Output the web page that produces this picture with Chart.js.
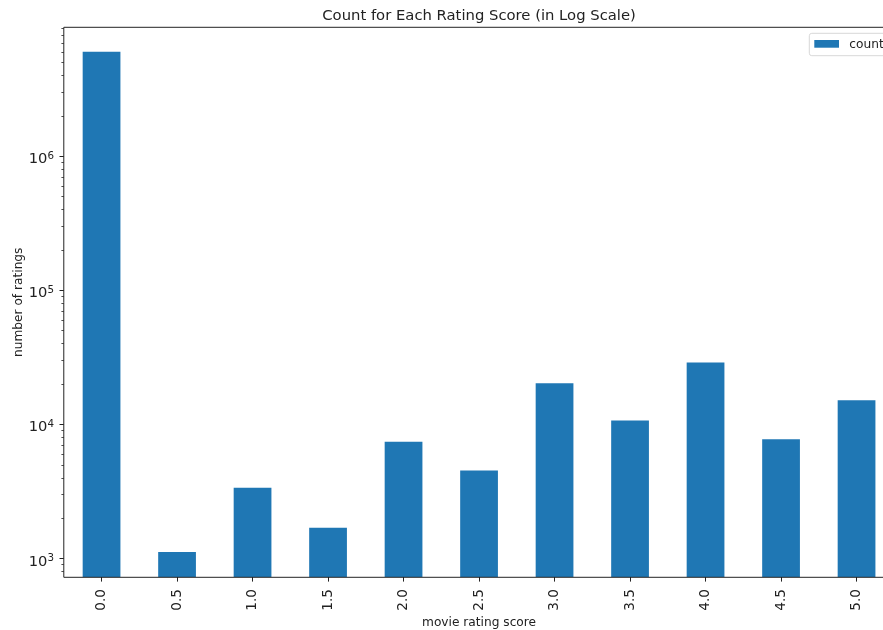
<!DOCTYPE html>
<html>
<head>
<meta charset="utf-8">
<script src="https://cdn.jsdelivr.net/npm/chart.js@4/dist/chart.umd.min.js"></script>
<style>
  html, body { margin: 0; padding: 0; background: #fff; overflow: hidden; }
  #wrap { position: relative; width: 900px; height: 630px; }
</style>
</head>
<body>
<div id="wrap"><canvas id="chart"></canvas></div>
<script>
// Rating scores and how many ratings each one received
const ratingScores = ['0.0', '0.5', '1.0', '1.5', '2.0', '2.5', '3.0', '3.5', '4.0', '4.5', '5.0'];
const ratingCounts = [6000000, 1114, 3363, 1691, 7381, 4508, 20230, 10640, 28840, 7730, 15100];
const seriesName = 'count';

// Log axis: labelled decades and range
const yMajorTicks = [1e3, 1e4, 1e5, 1e6];
const yMin = 721;
const yMax = 9.13e6;

const chartTitle = 'Count for Each Rating Score (in Log Scale)';
const xTitle = 'movie rating score';
const yTitle = 'number of ratings';

const FONT = '"DejaVu Sans", sans-serif';
const INK = '#222';
const BAR = '#1f77b4';

// Spines, log ticks with superscript labels, titles and legend
const decorations = {
  id: 'decorations',
  afterDraw(chart) {
    const { ctx, chartArea: a, scales } = chart;
    const y = scales.y;
    ctx.save();

    // spines
    ctx.strokeStyle = INK;
    ctx.lineWidth = 1;
    ctx.beginPath();
    ctx.moveTo(a.left, a.top); ctx.lineTo(a.right, a.top);
    ctx.moveTo(a.left, a.top); ctx.lineTo(a.left, a.bottom);
    ctx.moveTo(a.left, a.bottom); ctx.lineTo(a.right, a.bottom);
    ctx.moveTo(a.right, a.top); ctx.lineTo(a.right, a.bottom);
    ctx.stroke();

    // y minor ticks
    ctx.lineWidth = 0.8;
    ctx.beginPath();
    for (let e = 2; e <= 6; e++) {
      for (let k = 2; k <= 9; k++) {
        const v = k * Math.pow(10, e);
        if (v < yMin || v > yMax) continue;
        const py = Math.round(y.getPixelForValue(v)) + 0.5;
        ctx.moveTo(a.left, py); ctx.lineTo(a.left - 2.4, py);
      }
    }
    ctx.stroke();

    // y major ticks and labels
    ctx.lineWidth = 1;
    ctx.fillStyle = INK;
    ctx.textBaseline = 'alphabetic';
    yMajorTicks.forEach(v => {
      const py = y.getPixelForValue(v);
      ctx.beginPath();
      ctx.moveTo(a.left, Math.round(py) + 0.5); ctx.lineTo(a.left - 4.3, Math.round(py) + 0.5);
      ctx.stroke();
      const exp = String(Math.round(Math.log10(v)));
      ctx.font = '10.3px ' + FONT;
      const ew = ctx.measureText(exp).width;
      ctx.font = '14.7px ' + FONT;
      const bw = ctx.measureText('10').width;
      const right = a.left - 9.8;
      ctx.textAlign = 'left';
      ctx.fillText('10', right - ew - bw, py + 7.3);
      ctx.font = '10.3px ' + FONT;
      ctx.fillText(exp, right - ew, py + 3.2);
    });

    // title
    const cx = (a.left + a.right) / 2;
    ctx.textAlign = 'center';
    ctx.font = '14.8px ' + FONT;
    ctx.fillText(chartTitle, cx, 20);

    // axis titles
    ctx.font = '12.2px ' + FONT;
    ctx.fillText(xTitle, cx, 626);
    ctx.save();
    ctx.translate(21.7, (a.top + a.bottom) / 2);
    ctx.rotate(-Math.PI / 2);
    ctx.fillText(yTitle, 0, 0);
    ctx.restore();

    // legend
    const lx = 809.3, ly = 33.3, lw = 80, lh = 22.4, r = 2.5;
    ctx.beginPath();
    ctx.moveTo(lx + r, ly);
    ctx.lineTo(lx + lw - r, ly); ctx.arcTo(lx + lw, ly, lx + lw, ly + r, r);
    ctx.lineTo(lx + lw, ly + lh - r); ctx.arcTo(lx + lw, ly + lh, lx + lw - r, ly + lh, r);
    ctx.lineTo(lx + r, ly + lh); ctx.arcTo(lx, ly + lh, lx, ly + lh - r, r);
    ctx.lineTo(lx, ly + r); ctx.arcTo(lx, ly, lx + r, ly, r);
    ctx.closePath();
    ctx.fillStyle = 'rgba(255,255,255,0.8)';
    ctx.fill();
    ctx.strokeStyle = '#d8d8d8';
    ctx.lineWidth = 1;
    ctx.stroke();
    ctx.fillStyle = BAR;
    ctx.fillRect(814.3, 40, 24.7, 7.7);
    ctx.fillStyle = INK;
    ctx.textAlign = 'left';
    ctx.font = '12.2px ' + FONT;
    ctx.fillText(seriesName, 849.3, 48.2);

    ctx.restore();
  }
};

new Chart(document.getElementById('chart'), {
  type: 'bar',
  data: {
    labels: ratingScores,
    datasets: [{
      label: seriesName,
      data: ratingCounts,
      backgroundColor: BAR,
      borderWidth: 0,
      barPercentage: 0.5,
      categoryPercentage: 1.0
    }]
  },
  options: {
    responsive: true,
    maintainAspectRatio: false,
    animation: false,
    layout: { padding: { left: 0, right: 5.7, top: 27.3, bottom: 0 } },
    plugins: {
      legend: { display: false },
      title: { display: false },
      tooltip: { enabled: false }
    },
    scales: {
      x: {
        type: 'category',
        offset: true,
        grid: {
          display: true,
          drawOnChartArea: false,
          offset: false,
          tickLength: 4.3,
          tickColor: INK,
          tickWidth: 1
        },
        border: { display: false },
        ticks: {
          minRotation: 90,
          maxRotation: 90,
          padding: 7.5,
          color: INK,
          font: { family: FONT, size: 13.6 }
        },
        afterFit(scale) { scale.height = 52.7; }
      },
      y: {
        type: 'logarithmic',
        min: yMin,
        max: yMax,
        bounds: 'data',
        grid: { display: false },
        border: { display: false },
        ticks: { display: false },
        afterFit(scale) { scale.width = 63.8; }
      }
    }
  },
  plugins: [decorations]
});
</script>
</body>
</html>
